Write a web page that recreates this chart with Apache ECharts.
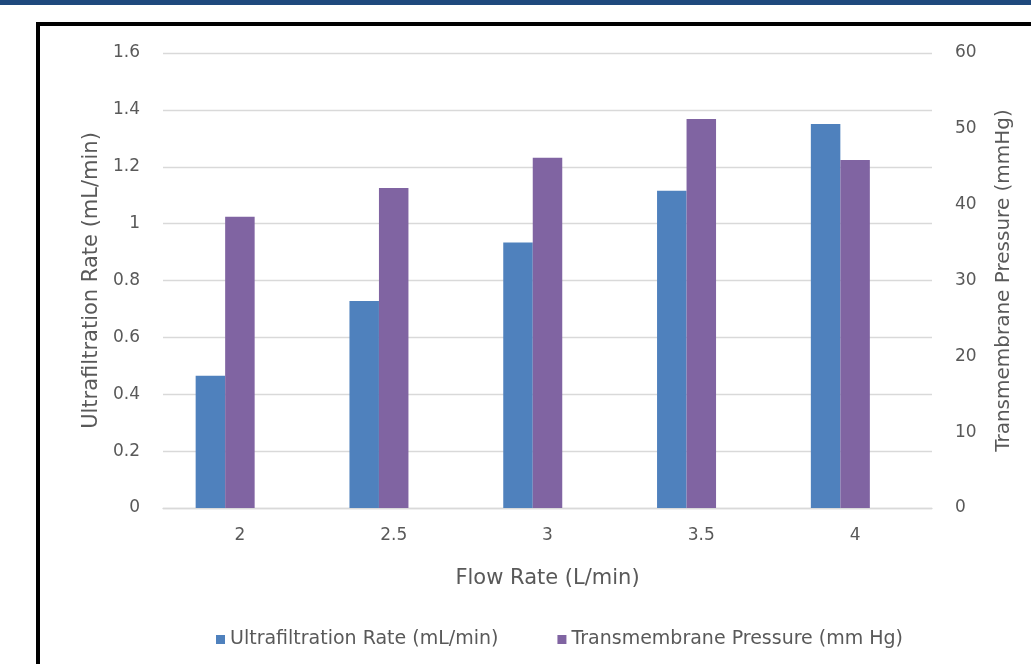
<!DOCTYPE html>
<html>
<head>
<meta charset="utf-8">
<title>Flow Rate vs Ultrafiltration and Transmembrane Pressure</title>
<script src="https://cdn.jsdelivr.net/npm/echarts@6/dist/echarts.min.js"></script>
<style>
  html, body { margin: 0; padding: 0; background: #ffffff; overflow: hidden; }
  #band { position: absolute; left: 0; top: 0; width: 1031px; height: 5px; background: #1f497d; }
  #frame { position: absolute; left: 36px; top: 22px; width: 1100px; height: 700px;
           border: 4px solid #000000; background: #ffffff; }
  #chart { position: absolute; left: 0; top: 0; width: 1031px; height: 664px; }
</style>
</head>
<body>
<div id="band"></div>
<div id="frame"></div>
<div id="chart"></div>
<script>
// Flow rates (L/min) on the category axis
const flowRates = ['2', '2.5', '3', '3.5', '4'];
// Ultrafiltration rate, mL/min (left axis)
const ultrafiltration = [0.465, 0.728, 0.934, 1.116, 1.350];
// Transmembrane pressure, mm Hg (right axis)
const transmembrane = [38.4, 42.2, 46.2, 51.3, 45.9];
// Empty third slot in each group, so the pair sits left of the tick
const spacer = [null, null, null, null, null];

const leftTicks = { min: 0, max: 1.6, interval: 0.2 };
const rightTicks = { min: 0, max: 60, interval: 10 };

const FONT = 'DejaVu Sans';
const GREY = '#595959';
const GRID = '#d9d9d9';

const chart = echarts.init(document.getElementById('chart'), null, { renderer: 'canvas' });

chart.setOption({
  backgroundColor: 'transparent',
  animation: false,
  textStyle: { fontFamily: FONT, color: GREY },
  grid: { left: 163, right: 99, top: 53, bottom: 156, containLabel: false },
  legend: {
    data: ['Ultrafiltration Rate (mL/min)', 'Transmembrane Pressure (mm Hg)'],
    left: 211, top: 625,
    itemWidth: 9, itemHeight: 9, itemGap: 59,
    icon: 'rect',
    textStyle: { fontFamily: FONT, fontSize: 19, color: GREY }
  },
  xAxis: {
    type: 'category',
    data: flowRates,
    name: 'Flow Rate (L/min)',
    nameLocation: 'middle',
    nameGap: 60,
    nameTextStyle: { fontFamily: FONT, fontSize: 21, color: GREY },
    axisLine: { show: true, lineStyle: { color: GRID, width: 1.3 } },
    axisTick: { show: false },
    axisLabel: { margin: 19, fontFamily: FONT, fontSize: 17, color: GREY }
  },
  yAxis: [
    {
      type: 'value',
      position: 'left',
      min: leftTicks.min, max: leftTicks.max, interval: leftTicks.interval,
      name: 'Ultrafiltration Rate (mL/min)',
      nameLocation: 'middle',
      nameGap: 60,
      nameTextStyle: { fontFamily: FONT, fontSize: 21, color: GREY },
      axisLine: { show: false },
      axisTick: { show: false },
      axisLabel: { margin: 23, fontFamily: FONT, fontSize: 17, color: GREY,
                   formatter: v => String(Math.round(v * 10) / 10) },
      splitLine: { show: true, lineStyle: { color: GRID, width: 1.3 } }
    },
    {
      type: 'value',
      position: 'right',
      min: rightTicks.min, max: rightTicks.max, interval: rightTicks.interval,
      name: 'Transmembrane Pressure (mmHg)',
      nameLocation: 'middle',
      nameGap: 62,
      nameTextStyle: { fontFamily: FONT, fontSize: 20, color: GREY },
      axisLine: { show: false },
      axisTick: { show: false },
      axisLabel: { margin: 23, fontFamily: FONT, fontSize: 17, color: GREY },
      splitLine: { show: false }
    }
  ],
  series: [
    {
      name: 'Ultrafiltration Rate (mL/min)',
      type: 'bar',
      yAxisIndex: 0,
      data: ultrafiltration,
      barWidth: 29.5,
      barGap: '0%',
      itemStyle: { color: '#4f81bd' }
    },
    {
      name: 'Transmembrane Pressure (mm Hg)',
      type: 'bar',
      yAxisIndex: 1,
      data: transmembrane,
      barWidth: 29.5,
      barGap: '0%',
      itemStyle: { color: '#8064a2' }
    },
    {
      name: 'spacer',
      type: 'bar',
      yAxisIndex: 0,
      data: spacer,
      barWidth: 29.5,
      barGap: '0%',
      silent: true
    }
  ]
});
</script>
</body>
</html>
